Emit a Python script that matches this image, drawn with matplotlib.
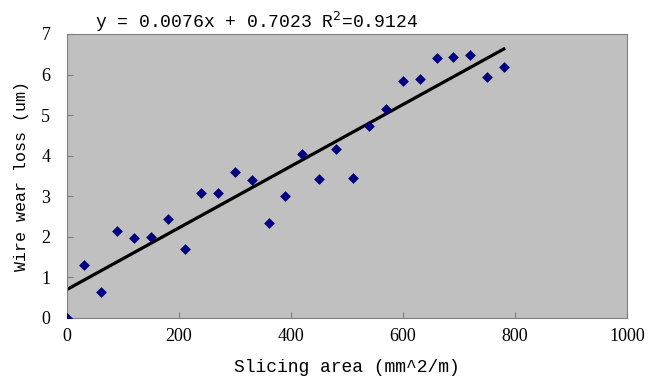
import matplotlib.pyplot as plt
import numpy as np
from matplotlib.ticker import MultipleLocator

# slicing area (mm^2/m) and measured wire wear loss (um)
area = [0, 30, 60, 90, 120, 150, 180, 210, 240, 270, 300, 330, 360, 390,
        420, 450, 480, 510, 540, 570, 600, 630, 660, 690, 720, 750, 780]
wear = [0.0, 1.30, 0.64, 2.14, 1.97, 2.00, 2.45, 1.69, 3.08, 3.08, 3.60, 3.40,
        2.35, 3.01, 4.03, 3.43, 4.17, 3.46, 4.72, 5.14, 5.85, 5.88, 6.41, 6.44,
        6.47, 5.94, 6.19]

# linear trend line shown on the chart
slope = 0.0076
intercept = 0.7023
r2 = 0.9124

serif = 'Liberation Serif'
mono = 'Liberation Mono'

fig = plt.figure(figsize=(6.6, 3.79), dpi=100)
ax = fig.add_axes([0.1015, 0.161, 0.8485, 0.7493])
ax.set_facecolor('#C0C0C0')

ax.scatter(area, wear, marker='D', s=30, color='#000080', zorder=3, linewidths=0)

xfit = np.array([area[0], area[-1]])
ax.plot(xfit, slope * xfit + intercept, color='black', linewidth=2.3, zorder=2)

ax.set_xlim(0, 1000)
ax.set_ylim(0, 7)
ax.xaxis.set_major_locator(MultipleLocator(200))
ax.yaxis.set_major_locator(MultipleLocator(1))
ax.tick_params(direction='in', length=4, color='#808080', labelsize=13)
ax.tick_params(axis='x', pad=7)
ax.tick_params(axis='y', pad=12)
for lab in ax.get_xticklabels() + ax.get_yticklabels():
    lab.set_fontfamily(serif)
for sp in ax.spines.values():
    sp.set_color('#808080')

ax.set_xlabel('Slicing area (mm^2/m)', fontfamily=mono, fontsize=13, labelpad=10)
ax.set_ylabel('Wire wear loss (um)', fontfamily=mono, fontsize=12, labelpad=9)

fig.text(95 / 660, 1 - 22 / 379,
         'y = 0.0076x + 0.7023 R$^2$=%.4f' % r2,
         fontfamily=mono, fontsize=13, va='center', ha='left')

fig.savefig('out.png', dpi=100)
